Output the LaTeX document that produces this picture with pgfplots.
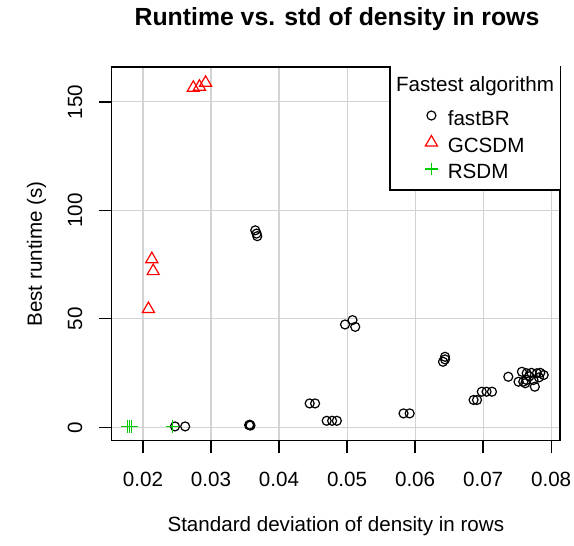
\documentclass[border=0pt]{standalone}
\usepackage{pgfplots}
\pgfplotsset{compat=1.18}
\usepackage{fontspec}
\setmainfont{Liberation Sans}
\definecolor{rred}{HTML}{FF0000}
\definecolor{rgreen}{HTML}{00CD00}
\definecolor{rgrid}{HTML}{D3D3D3}
\pgfplotstableread{
x y
0.0247 0.4
0.0262 0.4
0.0356 1.0
0.0357 1.2
0.0358 0.8
0.0365 90.8
0.0367 89.3
0.0368 88.1
0.0445 11.0
0.0453 11.0
0.0470 3.0
0.0478 3.0
0.0485 3.0
0.0497 47.4
0.0508 49.4
0.0512 46.3
0.0583 6.4
0.0592 6.4
0.0641 30.2
0.0644 32.5
0.0644 31.3
0.0686 12.6
0.0691 12.6
0.0698 16.4
0.0705 16.4
0.0713 16.4
0.0737 23.3
0.0752 21.0
0.0759 21.0
0.0762 20.3
0.0757 25.6
0.0764 24.9
0.0771 25.1
0.0779 24.9
0.0784 25.1
0.0789 24.1
0.0776 18.7
0.0764 21.8
0.0774 21.8
0.0768 23.5
0.0782 23.0
}\fastBR
\pgfplotstableread{
x y
0.0274 156.5
0.0283 157.0
0.0292 158.8
0.0213 77.5
0.0215 72.0
0.0208 54.5
}\GCSDM
\pgfplotstableread{
x y
0.01772 0.3
0.01801 0.3
0.01831 0.3
0.0243 0.3
}\RSDM
\begin{document}
\fontsize{10.3pt}{12pt}\selectfont
\begin{tikzpicture}
\begin{axis}[
  at={(55.85pt,52.65pt)}, anchor=south west,
  scale only axis, width=224.15pt, height=186.85pt,
  xmin=0.0154, xmax=0.0813, ymin=-6.18, ymax=166.1,
  xtick={0.02,0.03,0.04,0.05,0.06,0.07,0.08},
  ytick={0,50,100,150},
  xticklabel style={/pgf/number format/fixed, /pgf/number format/fixed zerofill, /pgf/number format/precision=2},
  /pgf/number format/assume math mode=true,
  scaled x ticks=false,
  tick align=outside, major tick length=6.2pt,
  xtick pos=left, ytick pos=left,
  every tick/.style={black, line width=0.65pt},
  axis line style={line width=0.65pt},
  grid=major, major grid style={rgrid, line width=0.55pt},
  xticklabel style={anchor=base, inner sep=0pt, yshift=-16.9pt},
  yticklabel style={rotate=90, anchor=base, inner sep=0pt, yshift=8.6pt},
  xlabel={Standard deviation of density in rows},
  xlabel style={at={(axis description cs:0.5,-0.2435)}, anchor=base, inner sep=0pt},
  ylabel={Best runtime (s)},
  ylabel style={at={(axis description cs:-0.1555,0.5)}, anchor=base, inner sep=0pt},
  legend style={draw=none, fill=none, inner sep=0pt, outer sep=0pt, column sep=5pt, row sep=3.25pt,
    at={(rel axis cs:0.6989,0.8849)}, anchor=north west,
    nodes={inner sep=0pt, text height=7.5pt, text depth=2pt}},
  legend cell align=left,
  legend image code/.code={\draw[mark repeat=2,mark phase=2,#1] plot coordinates {(0pt,2pt) (5pt,2pt) (10pt,2pt)};},
]
\addplot[only marks, mark=o, mark size=2.25pt, mark options={line width=0.6pt, black}] table[x=x,y=y] {\fastBR};
\addlegendentry{fastBR}
\addplot[only marks, mark=triangle, mark size=3.5pt, mark options={line width=0.6pt, rred}] table[x=x,y=y] {\GCSDM};
\addlegendentry{GCSDM}
\addplot[only marks, mark=+, mark size=3.2pt, mark options={line width=0.6pt, rgreen}] table[x=x,y=y] {\RSDM};
\addlegendentry{RSDM}
\draw[fill=white, line width=0.65pt] (rel axis cs:0.621,0.671) rectangle (rel axis cs:1.01,1.01);
\node[anchor=base, inner sep=0pt] at (rel axis cs:0.8104,0.9331) {Fastest algorithm};
\end{axis}
\node[anchor=base, inner sep=0pt, font=\fontsize{12.4pt}{14pt}\selectfont\bfseries] at (168.5pt,260pt) {Runtime vs. std of density in rows};
\pgfresetboundingbox
\useasboundingbox (0,0) rectangle (287pt,273pt);
\end{tikzpicture}
\end{document}
